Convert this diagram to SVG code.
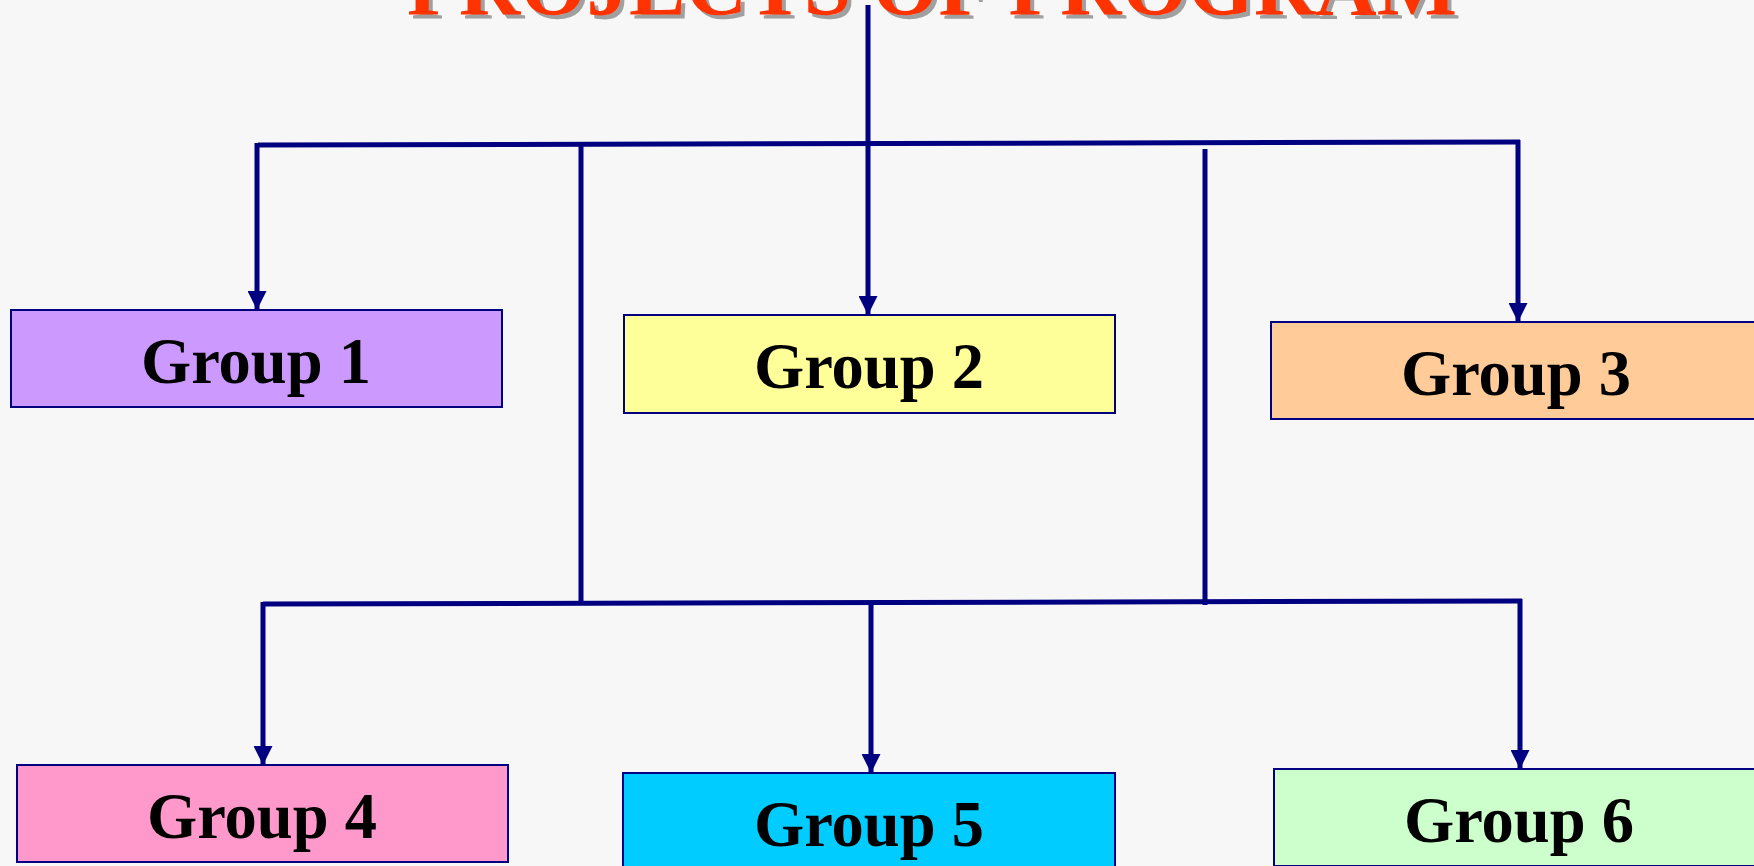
<svg xmlns="http://www.w3.org/2000/svg" width="1754" height="866" viewBox="0 0 1754 866">
<defs>
<style>
.box{stroke:#000080;stroke-width:2}
.lbl{font-family:"Liberation Serif","Times New Roman",serif;font-weight:bold;font-size:64.5px;fill:#000;text-anchor:middle}
.ln{stroke:#000080;stroke-width:5;fill:none}
.title{font-family:"Liberation Serif","Times New Roman",serif;font-weight:bold;font-size:85px;text-anchor:middle}
</style>
<marker id="arr" markerUnits="userSpaceOnUse" markerWidth="19" markerHeight="19" refX="18" refY="9" orient="auto" viewBox="0 0 18 18">
<path d="M0,0 L18,9 L0,18 Z" fill="#000080"/>
</marker>
</defs>
<rect x="0" y="0" width="1754" height="866" fill="#F7F7F7"/>
<g id="title">
<text class="title" x="936" y="19" fill="#A0A0A0">PROJECTS OF PROGRAM</text>
<text class="title" x="932" y="15" fill="#FF3300">PROJECTS OF PROGRAM</text>
</g>
<g id="connectors">
<line class="ln" x1="258" y1="145" x2="1520" y2="142"/>
<line class="ln" x1="263" y1="604" x2="1522" y2="601"/>
<line class="ln" x1="581" y1="145" x2="581" y2="604"/>
<line class="ln" x1="1205" y1="149" x2="1205" y2="605"/>
<path class="ln" d="M257,143 L257,310" marker-end="url(#arr)"/>
<path class="ln" d="M868,5 L868,315" marker-end="url(#arr)"/>
<path class="ln" d="M1518,140 L1518,322" marker-end="url(#arr)"/>
<path class="ln" d="M263,602 L263,765" marker-end="url(#arr)"/>
<path class="ln" d="M871,602 L871,773" marker-end="url(#arr)"/>
<path class="ln" d="M1520,599 L1520,769" marker-end="url(#arr)"/>
</g>
<g id="group1">
<rect class="box" x="11" y="310" width="491" height="97" fill="#CC99FF"/>
<text class="lbl" x="256" y="383">Group 1</text>
</g>
<g id="group2">
<rect class="box" x="624" y="315" width="491" height="98" fill="#FFFF99"/>
<text class="lbl" x="869" y="388">Group 2</text>
</g>
<g id="group3">
<rect class="box" x="1271" y="322" width="491" height="97" fill="#FFCC99"/>
<text class="lbl" x="1516" y="395">Group 3</text>
</g>
<g id="group4">
<rect class="box" x="17" y="765" width="491" height="97" fill="#FF99CC"/>
<text class="lbl" x="262" y="838">Group 4</text>
</g>
<g id="group5">
<rect class="box" x="623" y="773" width="492" height="97" fill="#00CCFF"/>
<text class="lbl" x="869" y="846">Group 5</text>
</g>
<g id="group6">
<rect class="box" x="1274" y="769" width="491" height="97" fill="#CCFFCC"/>
<text class="lbl" x="1519" y="842">Group 6</text>
</g>
</svg>
